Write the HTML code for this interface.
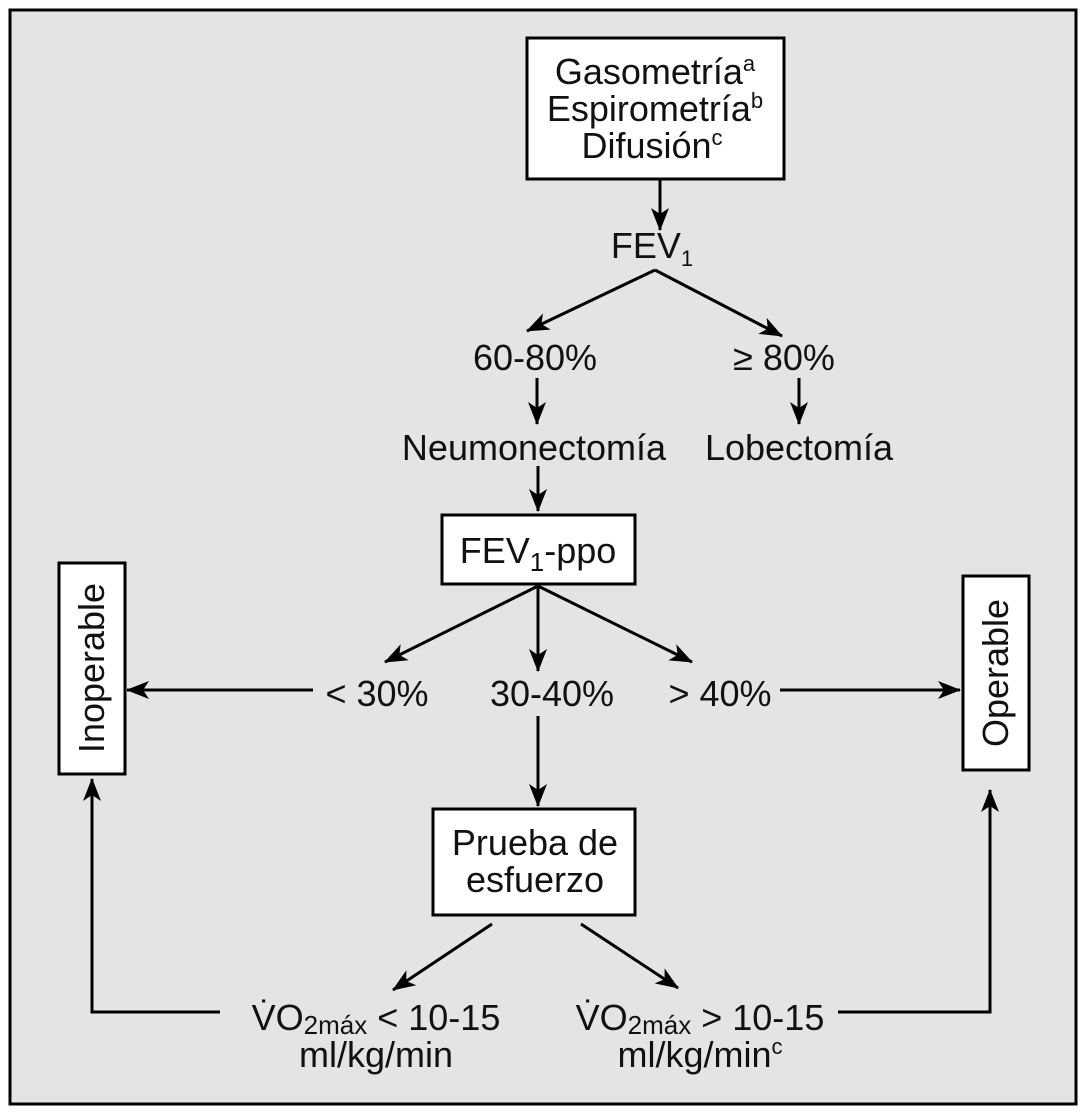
<!DOCTYPE html>
<html><head><meta charset="utf-8">
<style>
html,body{margin:0;padding:0;background:#fff;}
svg{display:block;}
text{font-family:"Liberation Sans",Arial,sans-serif;fill:#111;}
</style></head>
<body>
<svg width="1086" height="1112" viewBox="0 0 1086 1112" xmlns="http://www.w3.org/2000/svg">
<defs>
<marker id="ah" markerWidth="24" markerHeight="18" refX="22" refY="9" orient="auto" markerUnits="userSpaceOnUse">
<path d="M0,0 L23,9 L0,18 L6,9 Z" fill="#000"/>
</marker>
</defs>
<rect x="10" y="10" width="1066" height="1094" fill="#e4e4e4" stroke="#000" stroke-width="3"/>

<g stroke="#000" stroke-width="3" fill="#fff">
<rect x="527" y="38" width="257" height="141"/>
<rect x="442" y="515" width="193" height="69"/>
<rect x="59" y="563" width="66" height="211"/>
<rect x="963" y="576" width="66" height="194"/>
<rect x="433" y="809" width="202" height="106"/>
</g>

<g stroke="#000" stroke-width="3" fill="none" marker-end="url(#ah)">
<line x1="660" y1="180" x2="660" y2="230"/>
<line x1="655" y1="270" x2="527" y2="331"/>
<line x1="655" y1="270" x2="782" y2="336"/>
<line x1="537" y1="378" x2="537" y2="424"/>
<line x1="799" y1="378" x2="799" y2="424"/>
<line x1="538" y1="466" x2="538" y2="511"/>
<line x1="538" y1="586" x2="385" y2="662"/>
<line x1="538" y1="586" x2="538" y2="671"/>
<line x1="538" y1="586" x2="692" y2="662"/>
<line x1="313" y1="690" x2="127" y2="690"/>
<line x1="780" y1="690" x2="960" y2="690"/>
<line x1="538" y1="716" x2="538" y2="806"/>
<line x1="492" y1="924" x2="393" y2="990"/>
<line x1="581" y1="924" x2="678" y2="988"/>
<polyline points="220,1012 92,1012 92,779"/>
<polyline points="838,1012 990,1012 990,790"/>
</g>

<g font-size="36" text-anchor="middle">
<text x="655" y="84">Gasometría<tspan font-size="22" dy="-13">a</tspan></text>
<text x="655" y="121">Espirometría<tspan font-size="22" dy="-13">b</tspan></text>
<text x="652" y="158">Difusión<tspan font-size="22" dy="-13">c</tspan></text>
<text x="652" y="258">FEV<tspan font-size="22" dy="8">1</tspan></text>
<text x="535" y="370">60-80%</text>
<text x="784" y="370">≥ 80%</text>
<text x="534" y="460">Neumonectomía</text>
<text x="799" y="460">Lobectomía</text>
<text x="538" y="563">FEV<tspan font-size="26" dy="8">1</tspan><tspan dy="-8">-ppo</tspan></text>
<text x="377" y="706">&lt; 30%</text>
<text x="552" y="706">30-40%</text>
<text x="720" y="706">&gt; 40%</text>
<text x="535" y="855">Prueba de</text>
<text x="535" y="892">esfuerzo</text>
<text transform="translate(104,668) rotate(-90)">Inoperable</text>
<text transform="translate(1008,673) rotate(-90)">Operable</text>
<text x="376" y="1030">V̇O<tspan font-size="26" dy="4">2máx</tspan><tspan dy="-4"> &lt; 10-15</tspan></text>
<text x="376" y="1067">ml/kg/min</text>
<text x="700" y="1030">V̇O<tspan font-size="26" dy="4">2máx</tspan><tspan dy="-4"> &gt; 10-15</tspan></text>
<text x="700" y="1067">ml/kg/min<tspan font-size="22" dy="-13">c</tspan></text>
</g>
</svg>
</body></html>
